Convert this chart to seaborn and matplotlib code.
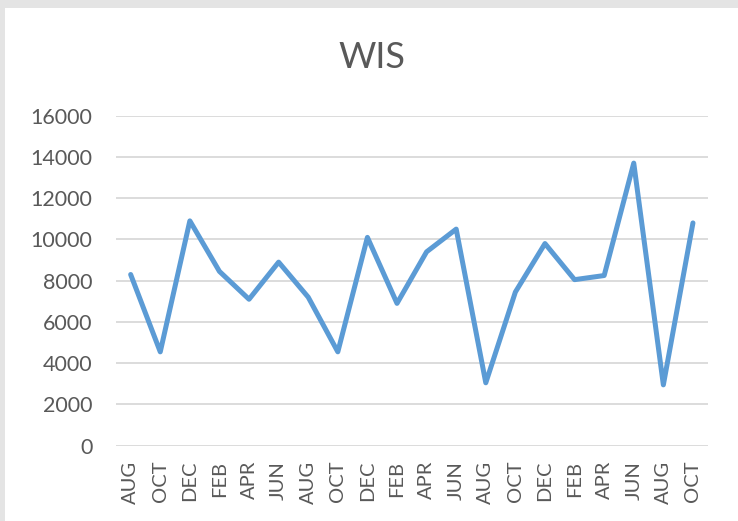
import numpy as np
import pandas as pd
import seaborn as sns
import matplotlib.pyplot as plt
from matplotlib.patches import Rectangle

# datos
meses = ["AUG", "OCT", "DEC", "FEB", "APR", "JUN", "AUG", "OCT", "DEC", "FEB",
         "APR", "JUN", "AUG", "OCT", "DEC", "FEB", "APR", "JUN", "AUG", "OCT"]
valores = [8300, 4550, 10900, 8450, 7100, 8900, 7200, 4550, 10100, 6900,
           9400, 10500, 3050, 7450, 9800, 8050, 8250, 13700, 2950, 10800]
ticks_y = [0, 2000, 4000, 6000, 8000, 10000, 12000, 14000, 16000]

sns.set_style("white")
plt.rcParams['font.family'] = ['Lato', 'DejaVu Sans']

df = pd.DataFrame({"pos": np.arange(len(meses)), "valor": valores})

fig = plt.figure(figsize=(7.38, 5.21), dpi=100)
ax = fig.add_axes([0.157, 0.1445, 0.802, 0.6335])

sns.lineplot(data=df, x="pos", y="valor", ax=ax, color="#5B9BD5", linewidth=3.6,
             solid_joinstyle="round", solid_capstyle="round")

ax.set_xlim(-0.5, len(meses) - 0.5)
ax.set_ylim(0, 16000)
ax.set_yticks(ticks_y)
ax.set_yticklabels([str(t) for t in ticks_y])
ax.set_xticks(df["pos"])
ax.set_xticklabels(meses, rotation=90)
ax.yaxis.grid(True, color="#D9D9D9", linewidth=1.3)
ax.set_axisbelow(True)
for s in ax.spines.values():
    s.set_visible(False)
ax.tick_params(axis="y", length=0, pad=17, labelsize=15.5, labelcolor="#595959")
ax.tick_params(axis="x", length=0, pad=11, labelsize=14.5, labelcolor="#595959")
ax.set_xlabel("")
ax.set_ylabel("")

fig.text(0.504, 0.89, "WIS", ha="center", va="center", fontsize=26, color="#595959")

# marco gris de la captura
fig.patches.append(Rectangle((0, 1 - 8 / 521), 1, 8 / 521, transform=fig.transFigure,
                             facecolor="#e4e4e4", edgecolor="none", zorder=0))
fig.patches.append(Rectangle((0, 0), 5 / 738, 1, transform=fig.transFigure,
                             facecolor="#e4e4e4", edgecolor="none", zorder=0))

fig.savefig("out.png", dpi=100)
